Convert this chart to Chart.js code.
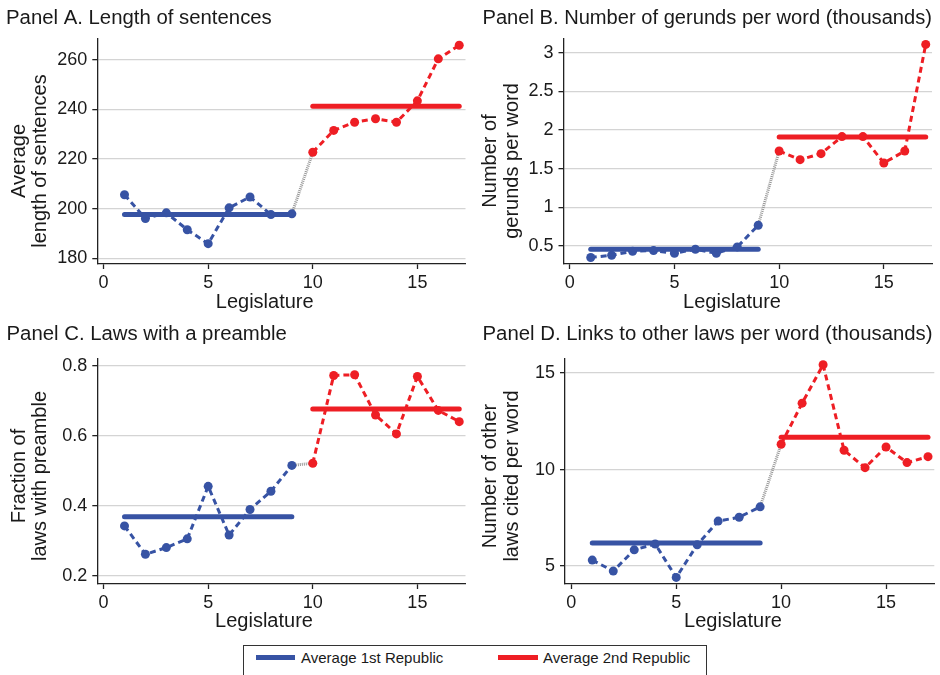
<!DOCTYPE html>
<html>
<head>
<meta charset="utf-8">
<script src="https://cdn.jsdelivr.net/npm/chart.js@4/dist/chart.umd.min.js"></script>
<style>
    body { margin: 0; background: #fff; width: 940px; height: 675px; position: relative; overflow: hidden; font-family: 'Liberation Sans', Arial, sans-serif; }
    canvas { position: absolute; }
    #legend { position: absolute; left: 243px; top: 645px; width: 462px; height: 29px; border: 1px solid #333; }
    #legend .swatch { position: absolute; height: 5px; top: 9px; }
    #legend .label { position: absolute; top: 3px; font-size: 15px; color: #1a1a1a; white-space: nowrap; }
</style>
</head>
<body>
<canvas id="panelA" width="470" height="320" style="left:0;top:0"></canvas>
<canvas id="panelB" width="470" height="320" style="left:470px;top:0"></canvas>
<canvas id="panelC" width="470" height="320" style="left:0;top:320px"></canvas>
<canvas id="panelD" width="470" height="320" style="left:470px;top:320px"></canvas>
<div id="legend">
    <span class="swatch" id="swatch1" style="left:12px;width:39px"></span>
    <span class="label" style="left:57px">Average 1st Republic</span>
    <span class="swatch" id="swatch2" style="left:254px;width:40px"></span>
    <span class="label" style="left:299px">Average 2nd Republic</span>
</div>
<script>
// legislatures of the two republics
const firstRepublic = [1, 2, 3, 4, 5, 6, 7, 8, 9];
const secondRepublic = [10, 11, 12, 13, 14, 15, 16, 17];
const xTicks = [0, 5, 10, 15];

// Panel A - average length of sentences
const sentences1 = [205.6, 196.0, 198.3, 191.5, 185.9, 200.3, 204.7, 197.6, 197.9];
const sentences2 = [222.7, 231.5, 234.8, 236.2, 234.8, 243.4, 260.3, 265.8];
const sentencesAvg = [197.6, 241.2];
const sentencesTicks = [180, 200, 220, 240, 260];

// Panel B - gerunds per word (thousands)
const gerunds1 = [0.35, 0.38, 0.43, 0.44, 0.405, 0.457, 0.405, 0.487, 0.768];
const gerunds2 = [1.73, 1.617, 1.695, 1.916, 1.916, 1.574, 1.73, 3.11];
const gerundsAvg = [0.457, 1.91];
const gerundsTicks = [0.5, 1, 1.5, 2, 2.5, 3];

// Panel C - share of laws with a preamble
const preamble1 = [0.342, 0.261, 0.280, 0.305, 0.455, 0.316, 0.389, 0.441, 0.515];
const preamble2 = [0.521, 0.772, 0.774, 0.659, 0.605, 0.769, 0.672, 0.640];
const preambleAvg = [0.368, 0.676];
const preambleTicks = [0.2, 0.4, 0.6, 0.8];

// Panel D - links to other laws per word (thousands)
const links1 = [5.31, 4.74, 5.84, 6.14, 4.41, 6.10, 7.33, 7.53, 8.07];
const links2 = [11.31, 13.44, 15.43, 11.0, 10.1, 11.17, 10.36, 10.67];
const linksAvg = [6.19, 11.68];
const linksTicks = [5, 10, 15];

const blue = 'rgb(55, 83, 164)';
const red = 'rgb(238, 30, 36)';
const grey = 'rgb(150, 150, 150)';
const textColor = '#1a1a1a';
const fontFamily = "'Liberation Sans', Arial, sans-serif";
const titleSize = 20.35;

document.getElementById('swatch1').style.background = blue;
document.getElementById('swatch2').style.background = red;

Chart.defaults.font.family = fontFamily;
Chart.defaults.color = textColor;

// axis titles are drawn by hand so they can sit where Stata puts them
const axisTitles = {
    id: 'axisTitles',
    afterDraw(chart, args, opts) {
        const ctx = chart.ctx;
        ctx.save();
        ctx.fillStyle = textColor;
        ctx.font = '20px ' + fontFamily;
        ctx.textAlign = 'center';
        ctx.textBaseline = 'middle';
        ctx.fillText(opts.xText, opts.xPos[0], opts.xPos[1]);
        ctx.translate(opts.yPos[0], opts.yPos[1]);
        ctx.rotate(-Math.PI / 2);
        opts.yText.forEach((line, i) => ctx.fillText(line, 0, i * 21.5));
        ctx.restore();
    }
};

function points(xs, ys) {
    return xs.map((x, i) => ({x: x, y: ys[i]}));
}

function makePanel(id, cfg) {
    const avgLine = (xs, v) => [{x: xs[0], y: v}, {x: xs[xs.length - 1], y: v}];
    const datasets = [
        {data: avgLine(firstRepublic, cfg.avg[0]), borderColor: blue, borderWidth: 5, borderCapStyle: 'round', pointRadius: 0},
        {data: avgLine(secondRepublic, cfg.avg[1]), borderColor: red, borderWidth: 5, borderCapStyle: 'round', pointRadius: 0},
        {data: points(firstRepublic, cfg.first), borderColor: blue, backgroundColor: blue, borderWidth: 3, borderDash: [6, 4], pointRadius: 4.5, pointBorderWidth: 0},
        {data: points(secondRepublic, cfg.second), borderColor: red, backgroundColor: red, borderWidth: 3, borderDash: [6, 4], pointRadius: 4.5, pointBorderWidth: 0},
        {data: [{x: firstRepublic[firstRepublic.length - 1], y: cfg.first[cfg.first.length - 1]}, {x: secondRepublic[0], y: cfg.second[0]}],
            borderColor: grey, borderWidth: 3, borderDash: [1, 1], pointRadius: 0}
    ];
    datasets.forEach(d => { d.tension = 0; d.clip = false; });

    const titleLine = titleSize * 1.2;

    new Chart(document.getElementById(id), {
        type: 'line',
        data: {datasets: datasets},
        options: {
            responsive: false,
            animation: false,
            devicePixelRatio: 1,
            layout: {padding: {left: cfg.padLeft, right: cfg.padRight, top: 0, bottom: 0}},
            scales: {
                x: {
                    type: 'linear',
                    min: -0.3,
                    max: 17.3,
                    afterBuildTicks: s => { s.ticks = xTicks.map(v => ({value: v})); },
                    afterFit: s => { s.height = 56; },
                    grid: {drawOnChartArea: false, drawTicks: true, tickLength: 5, tickColor: '#222', tickWidth: 1.3},
                    border: {display: true, color: '#222', width: 1.3},
                    ticks: {padding: 3, color: textColor, font: {size: 18}, maxRotation: 0, callback: v => String(v)}
                },
                y: {
                    type: 'linear',
                    min: cfg.range[0],
                    max: cfg.range[1],
                    afterBuildTicks: s => { s.ticks = cfg.ticks.map(v => ({value: v})); },
                    afterFit: s => { s.width = cfg.yWidth; },
                    grid: {color: '#d4d4d4', lineWidth: 1.3, drawTicks: true, tickLength: 5, tickColor: '#222', tickWidth: 1.3},
                    border: {display: true, color: '#222', width: 1.3},
                    ticks: {padding: 5, color: textColor, font: {size: 18}, callback: v => String(v)}
                }
            },
            plugins: {
                legend: {display: false},
                tooltip: {enabled: false},
                title: {
                    display: true,
                    text: cfg.title,
                    align: 'start',
                    color: textColor,
                    font: {size: titleSize, weight: 'normal', lineHeight: 1.2},
                    padding: {top: cfg.titleTop, bottom: 39 - titleLine - cfg.titleTop}
                },
                axisTitles: {xText: 'Legislature', xPos: cfg.xTitlePos, yText: cfg.yTitle, yPos: cfg.yTitlePos}
            }
        },
        plugins: [axisTitles]
    });
}

makePanel('panelA', {
    title: 'Panel A. Length of sentences',
    yTitle: ['Average', 'length of sentences'],
    first: sentences1, second: sentences2, avg: sentencesAvg,
    ticks: sentencesTicks, range: [177.7, 268.3],
    padLeft: 6, padRight: 3, yWidth: 91.3, titleTop: 5.8,
    xTitlePos: [264.7, 302.4], yTitlePos: [19.1, 161]
});

makePanel('panelB', {
    title: 'Panel B. Number of gerunds per word (thousands)',
    yTitle: ['Number of', 'gerunds per word'],
    first: gerunds1, second: gerunds2, avg: gerundsAvg,
    ticks: gerundsTicks, range: [0.266, 3.18],
    padLeft: 12.5, padRight: 8, yWidth: 81, titleTop: 6.3,
    xTitlePos: [262, 302.4], yTitlePos: [20.7, 161]
});

makePanel('panelC', {
    title: 'Panel C. Laws with a preamble',
    yTitle: ['Fraction of', 'laws with preamble'],
    first: preamble1, second: preamble2, avg: preambleAvg,
    ticks: preambleTicks, range: [0.176, 0.819],
    padLeft: 6.5, padRight: 3, yWidth: 90.8, titleTop: 2.3,
    xTitlePos: [264, 301], yTitlePos: [19.1, 156]
});

makePanel('panelD', {
    title: 'Panel D. Links to other laws per word (thousands)',
    yTitle: ['Number of other', 'laws cited per word'],
    first: links1, second: links2, avg: linksAvg,
    ticks: linksTicks, range: [4.07, 15.73],
    padLeft: 12.5, padRight: 5.7, yWidth: 82.5, titleTop: 2.3,
    xTitlePos: [263, 301], yTitlePos: [20.7, 156]
});
</script>
</body>
</html>
